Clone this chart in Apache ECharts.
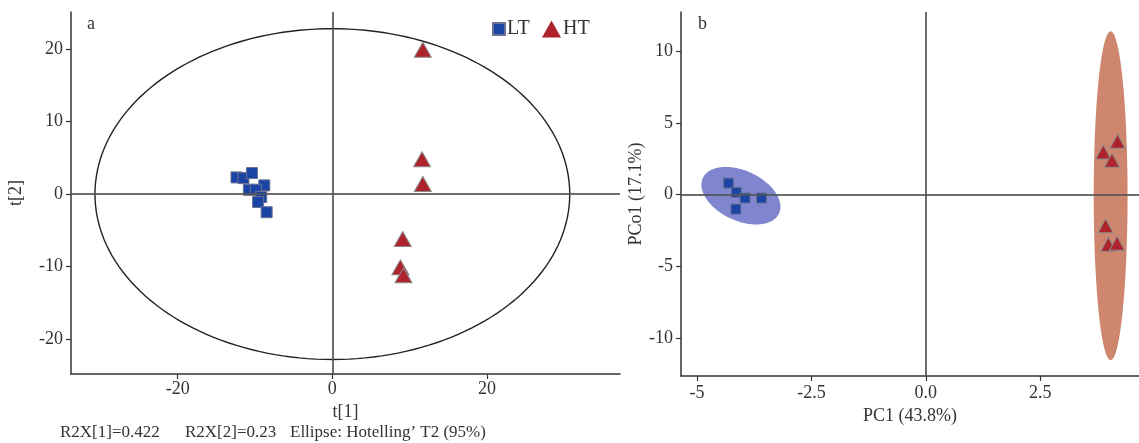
<!DOCTYPE html>
<html>
<head>
<meta charset="utf-8">
<script src="https://cdn.jsdelivr.net/npm/echarts@6/dist/echarts.min.js"></script>
<style>
  html, body { margin: 0; padding: 0; background: #fff; }
  #chart { width: 1139px; height: 443px; }
</style>
</head>
<body>
<div id="chart"></div>
<script>
// Panel a: PCA score plot (t[1] vs t[2])
const scoreLT = [[-12.4, 2.3], [-11.5, 2.2], [-10.4, 2.9], [-8.8, 1.2], [-10.8, 0.6],
                 [-9.9, 0.6], [-9.2, -0.4], [-9.6, -1.1], [-8.5, -2.5]];
const scoreHT = [[11.7, 19.9], [11.6, 4.8], [11.7, 1.4], [9.1, -6.2], [8.8, -10.1], [9.2, -11.2]];
// Hotelling T2 (95%) ellipse: centre x, centre y, semi-axis t[1], semi-axis t[2]
const hotellingEllipse = [0, 0, 30.7, 22.8];
const scoreXTicks = [-20, 0, 20];
const scoreYTicks = [20, 10, 0, -10, -20];

// Panel b: PCoA plot (PC1 vs PCo1)
const pcoaLT = [[-4.31, 0.81], [-4.14, 0.16], [-3.95, -0.23], [-3.59, -0.23], [-4.15, -1.0]];
const pcoaHT = [[4.19, 3.71], [3.88, 2.97], [4.07, 2.39], [3.93, -2.16], [3.99, -3.44], [4.18, -3.37]];
// Group ellipses: centre, first axis vector, second axis vector (data units)
const ellipseLT = [[-4.04, -0.07], [0.832, -1.233], [-0.231, -1.574]];
const ellipseHT = [[4.04, -0.07], [0.37, 0], [0, 11.43]];
const pcoaXTicks = [-5, -2.5, 0, 2.5];
const pcoaXTickLabels = ['-5', '-2.5', '0.0', '2.5'];
const pcoaYTicks = [10, 5, 0, -5, -10];

const SERIF = '"Liberation Serif", "DejaVu Serif", serif';
const AXIS_COLOR = '#333';
const TEXT_COLOR = '#333';
const LABEL_SIZE = 18;

function ellipseSeries(name, center, u, v, gridIdx, style) {
  return {
    name: name,
    type: 'custom',
    xAxisIndex: gridIdx,
    yAxisIndex: gridIdx,
    silent: true,
    z: 1,
    data: [[center[0], center[1]]],
    renderItem: function (params, api) {
      const pts = [];
      const n = 180;
      for (let i = 0; i < n; i++) {
        const t = (i / n) * Math.PI * 2;
        const c = Math.cos(t), s = Math.sin(t);
        pts.push(api.coord([center[0] + c * u[0] + s * v[0], center[1] + c * u[1] + s * v[1]]));
      }
      return { type: 'polygon', shape: { points: pts }, style: style };
    }
  };
}

function valueAxis(gridIndex, min, max, ticks, extra) {
  return Object.assign({
    type: 'value',
    gridIndex: gridIndex,
    min: min,
    max: max,
    splitLine: { show: false },
    axisLine: { show: true, onZero: false, lineStyle: { color: AXIS_COLOR, width: 1.5 } },
    axisTick: { show: true, length: 5, customValues: ticks, lineStyle: { color: AXIS_COLOR, width: 1.2 } },
    axisLabel: {
      customValues: ticks,
      color: TEXT_COLOR,
      fontFamily: SERIF,
      fontSize: LABEL_SIZE
    },
    nameTextStyle: { color: TEXT_COLOR, fontFamily: SERIF, fontSize: 18 }
  }, extra || {});
}

const squareStyle = { color: '#1b45a5', borderColor: '#6b7191', borderWidth: 1, opacity: 1 };
const triangleStyle = { color: '#ae232b', borderColor: '#8a8a8a', borderWidth: 1, opacity: 1 };

const zeroLines = {
  silent: true,
  symbol: 'none',
  label: { show: false },
  lineStyle: { color: '#555', width: 2, type: 'solid', opacity: 0.85 },
  data: [{ xAxis: 0 }, { yAxis: 0 }]
};

const legendText = { color: TEXT_COLOR, fontFamily: SERIF, fontSize: 20, padding: [0, 0, 0, -3] };

const option = {
  backgroundColor: '#fff',
  animation: false,
  grid: [
    { left: 71, top: 12, width: 549, height: 362 },
    { left: 681, top: 12, width: 458, height: 364 }
  ],
  xAxis: [
    valueAxis(0, -33.8, 37.2, scoreXTicks, {
      name: 't[1]', nameLocation: 'middle', nameGap: 26,
      axisLabel: { customValues: scoreXTicks, color: TEXT_COLOR, fontFamily: SERIF, fontSize: LABEL_SIZE, margin: 6 }
    }),
    valueAxis(1, -5.35, 4.66, pcoaXTicks, {
      name: 'PC1 (43.8%)', nameLocation: 'middle', nameGap: 27,
      axisLabel: {
        customValues: pcoaXTicks, color: TEXT_COLOR, fontFamily: SERIF, fontSize: LABEL_SIZE, margin: 8,
        formatter: function (v) {
          const i = pcoaXTicks.indexOf(v);
          return i >= 0 ? pcoaXTickLabels[i] : '';
        }
      }
    })
  ],
  yAxis: [
    valueAxis(0, -24.8, 25.1, scoreYTicks, {
      name: 't[2]', nameLocation: 'middle', nameGap: 46
    }),
    valueAxis(1, -12.6, 12.7, pcoaYTicks, {
      name: 'PCo1 (17.1%)', nameLocation: 'middle', nameGap: 32
    })
  ],
  legend: [
    {
      left: 487, top: 14, itemWidth: 12, itemHeight: 12,
      textStyle: legendText,
      data: [{ name: 'LT', icon: 'rect' }]
    },
    {
      left: 537, top: 14, itemWidth: 19, itemHeight: 17,
      textStyle: legendText,
      data: [{ name: 'HT', icon: 'triangle', itemStyle: { color: '#ae232b', borderWidth: 0 } }]
    }
  ],
  series: [
    ellipseSeries('T2', [hotellingEllipse[0], hotellingEllipse[1]], [hotellingEllipse[2], 0], [0, hotellingEllipse[3]], 0,
      { fill: 'none', stroke: '#222', lineWidth: 1.4 }),
    ellipseSeries('LT-ellipse', ellipseLT[0], ellipseLT[1], ellipseLT[2], 1,
      { fill: '#7f86cf', stroke: 'none' }),
    ellipseSeries('HT-ellipse', ellipseHT[0], ellipseHT[1], ellipseHT[2], 1,
      { fill: '#cf866f', stroke: 'none' }),
    {
      name: 'LT', type: 'scatter', xAxisIndex: 0, yAxisIndex: 0, z: 3,
      symbol: 'rect', symbolSize: 11, itemStyle: squareStyle, data: scoreLT,
      markLine: zeroLines
    },
    {
      name: 'HT', type: 'scatter', xAxisIndex: 0, yAxisIndex: 0, z: 3,
      symbol: 'triangle', symbolSize: [17, 15], itemStyle: triangleStyle, data: scoreHT
    },
    {
      name: 'LT', type: 'scatter', xAxisIndex: 1, yAxisIndex: 1, z: 3,
      symbol: 'rect', symbolSize: 10, itemStyle: squareStyle, data: pcoaLT,
      markLine: zeroLines
    },
    {
      name: 'HT', type: 'scatter', xAxisIndex: 1, yAxisIndex: 1, z: 3,
      symbol: 'triangle', symbolSize: [15, 14], itemStyle: triangleStyle, data: pcoaHT
    }
  ],
  graphic: [
    { type: 'text', left: 87, top: 15, style: { text: 'a', font: '18px ' + SERIF, fill: TEXT_COLOR } },
    { type: 'text', left: 698, top: 15, style: { text: 'b', font: '18px ' + SERIF, fill: TEXT_COLOR } },
    { type: 'text', left: 60, top: 424, style: { text: 'R2X[1]=0.422', font: '17px ' + SERIF, fill: TEXT_COLOR } },
    { type: 'text', left: 185, top: 424, style: { text: 'R2X[2]=0.23', font: '17px ' + SERIF, fill: TEXT_COLOR } },
    { type: 'text', left: 290, top: 424, style: { text: 'Ellipse: Hotelling\u2019 T2 (95%)', font: '17px ' + SERIF, fill: TEXT_COLOR } }
  ]
};

const chart = echarts.init(document.getElementById('chart'), null, { renderer: 'canvas' });
chart.setOption(option);
</script>
</body>
</html>
